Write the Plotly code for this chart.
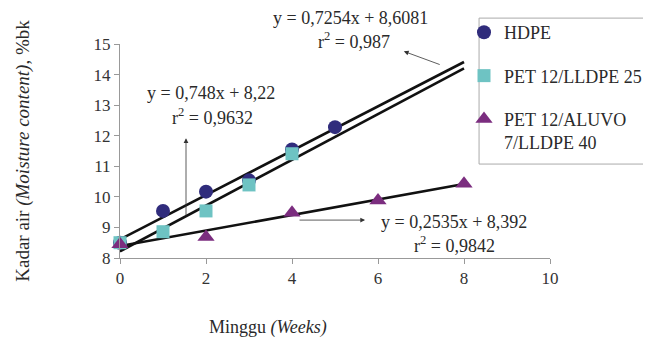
import plotly.graph_objects as go

# Data
series_names = ["HDPE", "PET 12/LLDPE 25", "PET 12/ALUVO<br>7/LLDPE 40"]
hdpe_weeks = [0, 1, 2, 3, 4, 5]
hdpe_moisture = [8.5, 9.54, 10.17, 10.54, 11.55, 12.28]
pet_lldpe_weeks = [0, 1, 2, 3, 4]
pet_lldpe_moisture = [8.5, 8.86, 9.54, 10.39, 11.41]
pet_aluvo_weeks = [0, 2, 4, 6, 8]
pet_aluvo_moisture = [8.45, 8.69, 9.48, 9.88, 10.43]

trend_slopes = [0.7254, 0.748, 0.2535]
trend_intercepts = [8.6081, 8.22, 8.392]
trend_x = [0, 8]
trend_labels = [
    ("y = 0,7254x + 8,6081", "r<sup>2</sup> = 0,987"),
    ("y = 0,748x + 8,22", "r<sup>2</sup> = 0,9632"),
    ("y = 0,2535x + 8,392", "r<sup>2</sup> = 0,9842"),
]
x_ticks = [0, 2, 4, 6, 8, 10]
y_ticks = [8, 9, 10, 11, 12, 13, 14, 15]

FONT = "Liberation Serif, Times New Roman, Times, serif"
TXT = "#2a2a2a"

fig = go.Figure()

# trend lines
for s, b in zip(trend_slopes, trend_intercepts):
    fig.add_trace(go.Scatter(
        x=trend_x, y=[s * xv + b for xv in trend_x], mode="lines",
        line=dict(color="#111111", width=2.6), showlegend=False, hoverinfo="skip"))

marker_styles = [
    dict(symbol="circle", color="#302C7C", size=14),
    dict(symbol="square", color="#6EC3C3", size=13),
    dict(symbol="triangle-up", color="#7B2D7F", size=15),
]
data = [(hdpe_weeks, hdpe_moisture), (pet_lldpe_weeks, pet_lldpe_moisture),
        (pet_aluvo_weeks, pet_aluvo_moisture)]
for i, ((xs, ys), name, ms) in enumerate(zip(data, series_names, marker_styles)):
    fig.add_trace(go.Scatter(
        x=xs, y=ys, mode="markers", name=name, marker=ms,
        legendgroup=f"g{i}", cliponaxis=False))

# equation labels (x in data units, y in paper units)
label_pos = [((5.37, 1.121), (5.45, 1.015)),
             ((2.12, 0.772), (2.14, 0.662)),
             ((7.77, 0.166), (7.79, 0.062))]
for (eq, r2), ((x1, y1), (x2, y2)) in zip(trend_labels, label_pos):
    fig.add_annotation(x=x1, y=y1, xref="x", yref="paper", yanchor="middle",
                       text=eq, showarrow=False,
                       font=dict(family=FONT, size=18, color=TXT))
    fig.add_annotation(x=x2, y=y2, xref="x", yref="paper", yanchor="middle",
                       text=r2, showarrow=False,
                       font=dict(family=FONT, size=18, color=TXT))

# pointer arrows (head, tail)
arrows = [((6.6, 14.76), (7.47, 14.31)),
          ((1.535, 11.92), (1.535, 9.34)),
          ((5.7, 9.24), (4.14, 9.24))]
for (hx, hy), (tx, ty) in arrows:
    fig.add_annotation(x=hx, y=hy, ax=tx, ay=ty, axref="x", ayref="y",
                       xref="x", yref="y", text="", showarrow=True,
                       arrowhead=2, arrowsize=1.2, arrowwidth=0.8,
                       arrowcolor="#333333")

# x-axis title (sits left of the axis centre in the reference)
fig.add_annotation(x=3.44, y=-0.327, xref="x", yref="paper", yanchor="middle",
                   text="Minggu <i>(Weeks)</i>", showarrow=False,
                   font=dict(family=FONT, size=18, color=TXT))

# legend frame
fig.add_shape(type="rect", xref="paper", yref="paper", x0=0.835, x1=1.4,
              y0=0.439, y1=1.121, line=dict(color="#aaaaaa", width=1),
              fillcolor="rgba(0,0,0,0)", layer="below")

fig.update_layout(
    width=651, height=344,
    margin=dict(l=112, r=109, t=36, b=94, autoexpand=False),
    paper_bgcolor="white", plot_bgcolor="white",
    font=dict(family=FONT, size=17, color=TXT),
    showlegend=True,
    legend=dict(x=0.8, y=1.14, xanchor="left", yanchor="top",
                bgcolor="rgba(0,0,0,0)", borderwidth=0,
                font=dict(family=FONT, size=18, color=TXT),
                traceorder="grouped", tracegroupgap=17, valign="top",
                itemwidth=30),
)
fig.update_xaxes(range=[0, 10], tickvals=x_ticks, showgrid=False, zeroline=False,
                 showline=True, linecolor="#999999", linewidth=1,
                 ticks="outside", ticklen=5, tickcolor="#999999",
                 tickfont=dict(family=FONT, size=17, color="#333333"))
fig.update_yaxes(range=[8, 15], tickvals=y_ticks, showgrid=False, zeroline=False,
                 showline=True, linecolor="#999999", linewidth=1,
                 ticks="outside", ticklen=5, tickcolor="#999999",
                 tickfont=dict(family=FONT, size=17, color="#333333"),
                 title=dict(text="Kadar air <i>(Moisture content)</i>, %bk", standoff=58,
                            font=dict(family=FONT, size=19, color=TXT)))

fig.write_html("out.html")
